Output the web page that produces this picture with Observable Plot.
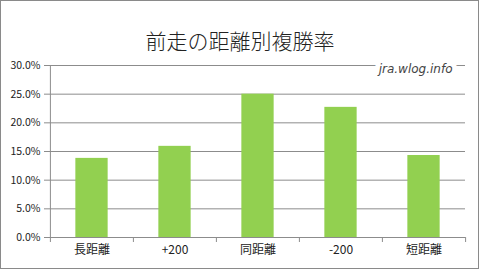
<!DOCTYPE html>
<html><head><meta charset="utf-8">
<script src="https://cdn.jsdelivr.net/npm/d3@7"></script>
<script src="https://cdn.jsdelivr.net/npm/@observablehq/plot@0.6"></script>
<style>
body{margin:0;background:#fff;}
#chart svg{border:1px solid #8a8a8a;display:block;background:#fff;}
</style></head>
<body><div id="chart"></div>
<script>
const title = "前走の距離別複勝率";
const watermark = "jra.wlog.info";
const categories = ["長距離", "+200", "同距離", "-200", "短距離"];
const values = [13.8, 15.9, 25.0, 22.7, 14.3];
const yTicks = [0, 5, 10, 15, 20, 25, 30];

const data = categories.map((c, i) => ({cat: c, v: values[i]}));
const W = 477, H = 267, ML = 48, MR = 13, MT = 64, MB = 31;
const step = (W - ML - MR) / categories.length;
const barW = 32.5;
const inset = (step - barW) / 2;
const titleShift = W / 2 - (ML + (W - ML - MR) / 2);
const font = "'Noto Sans CJK JP', sans-serif";

const chart = Plot.plot({
  width: W, height: H,
  marginLeft: ML, marginRight: MR, marginTop: MT, marginBottom: MB,
  style: {fontFamily: font, fontSize: "10.5px", color: "#222", background: "#fff"},
  x: {domain: categories, padding: 0, label: null},
  y: {domain: [0, 30], label: null},
  marks: [
    Plot.gridY(yTicks, {stroke: "#8c8c8c", strokeOpacity: 1, strokeWidth: 1}),
    Plot.barY(data, {x: "cat", y: "v", fill: "#92d050", insetLeft: inset, insetRight: inset}),
    Plot.ruleY([0], {stroke: "#8c8c8c"}),
    Plot.ruleX(categories, {x: d => d, dx: -step / 2, y1: 0, y2: 0, stroke: "#8c8c8c", insetBottom: -5}),
    Plot.ruleX([categories[categories.length - 1]], {dx: step / 2, y1: 0, y2: 0, stroke: "#8c8c8c", insetBottom: -5}),
    Plot.ruleX([categories[0]], {dx: -step / 2, y1: 0, y2: 30, stroke: "#8c8c8c"}),
    Plot.axisX({tickSize: 0, tickPadding: 8, fontSize: 12, fill: "#222"}),
    Plot.axisY({ticks: yTicks, tickFormat: d => d.toFixed(1) + "%", tickSize: 5, tickPadding: 4, stroke: "#8c8c8c", fill: "#222", fontSize: 10.5}),
    Plot.text([title], {frameAnchor: "top", dx: titleShift, dy: -31, fontSize: 21, fill: "#222", fontWeight: 300, text: d => d}),
    Plot.text([watermark], {frameAnchor: "top-right", dx: -13, dy: -1, fontSize: 12, fontStyle: "italic", fontWeight: 300, letterSpacing: 0.5, fill: "#444", stroke: "white", strokeWidth: 10, paintOrder: "stroke", fontFamily: "'DejaVu Sans', sans-serif", textAnchor: "end", text: d => d})
  ]
});
document.getElementById("chart").append(chart);
</script></body></html>
